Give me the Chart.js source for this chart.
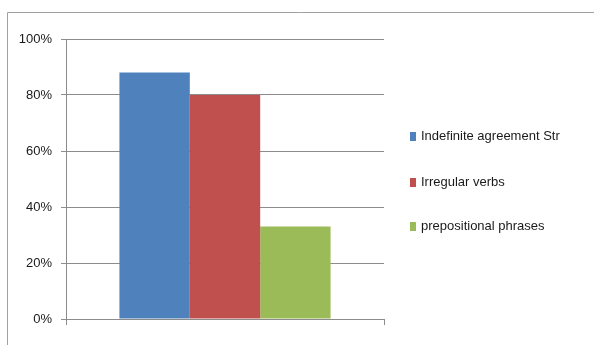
<!DOCTYPE html>
<html>
<head>
<meta charset="utf-8">
<script src="https://cdn.jsdelivr.net/npm/chart.js@4"></script>
<style>
  html, body { margin: 0; padding: 0; background: #fff; }
  #wrap { width: 594px; height: 345px; }
</style>
</head>
<body>
<div id="wrap"><canvas id="grafico"></canvas></div>
<script>
// Dados
const categorias = [""];
const series = ["Indefinite agreement Str", "Irregular verbs", "prepositional phrases"];
const valores = [0.88, 0.80, 0.33];
const ticksY = [0, 0.2, 0.4, 0.6, 0.8, 1];

const cores = [
  "#4f81bd", // azul
  "#c0504d", // vermelho
  "#9bbb59"  // verde
];

const fonte = "'Liberation Sans', Arial, sans-serif";

// moldura e legenda desenhadas à mão
const extras = {
  id: "extras",
  beforeDraw(chart) {
    const ctx = chart.ctx;
    ctx.save();
    ctx.strokeStyle = "#a0a0a0";
    ctx.lineWidth = 1;
    ctx.beginPath();
    ctx.moveTo(7.5, 345);
    ctx.lineTo(7.5, 12.5);
    ctx.lineTo(594, 12.5);
    ctx.stroke();
    ctx.restore();
  },
  afterDraw(chart) {
    const ctx = chart.ctx;
    const ys = [136, 182, 226];
    ctx.save();
    ctx.font = "13px " + fonte;
    ctx.textBaseline = "middle";
    series.forEach((nome, i) => {
      ctx.fillStyle = cores[i];
      ctx.fillRect(410, ys[i] - 4, 6, 9);
      ctx.fillStyle = "#1a1a1a";
      ctx.fillText(nome, 421, ys[i]);
    });
    ctx.restore();
  }
};

new Chart(document.getElementById("grafico"), {
  type: "bar",
  data: {
    labels: categorias,
    datasets: series.map((nome, i) => ({
      label: nome,
      data: [valores[i]],
      backgroundColor: cores[i],
      borderWidth: 0
    }))
  },
  options: {
    responsive: true,
    maintainAspectRatio: false,
    animation: false,
    layout: { padding: { left: 0, top: 39, right: 210, bottom: 0 } },
    plugins: { legend: { display: false }, tooltip: { enabled: false } },
    datasets: { bar: { categoryPercentage: 0.664, barPercentage: 1 } },
    scales: {
      x: {
        afterFit: s => { s.height = 26; },
        grid: { drawOnChartArea: false, drawTicks: true, tickLength: 6, color: "#8c8c8c", offset: true },
        border: { display: true, color: "#8c8c8c" },
        ticks: { display: false }
      },
      y: {
        min: 0,
        max: 1,
        afterFit: s => { s.width = 66; },
        afterBuildTicks: s => { s.ticks = ticksY.map(v => ({ value: v })); },
        grid: { color: "#8c8c8c", tickLength: 5 },
        border: { color: "#8c8c8c" },
        ticks: {
          padding: 9,
          color: "#1a1a1a",
          font: { family: fonte, size: 13 },
          callback: v => Math.round(v * 100) + "%"
        }
      }
    }
  },
  plugins: [extras]
});
</script>
</body>
</html>
